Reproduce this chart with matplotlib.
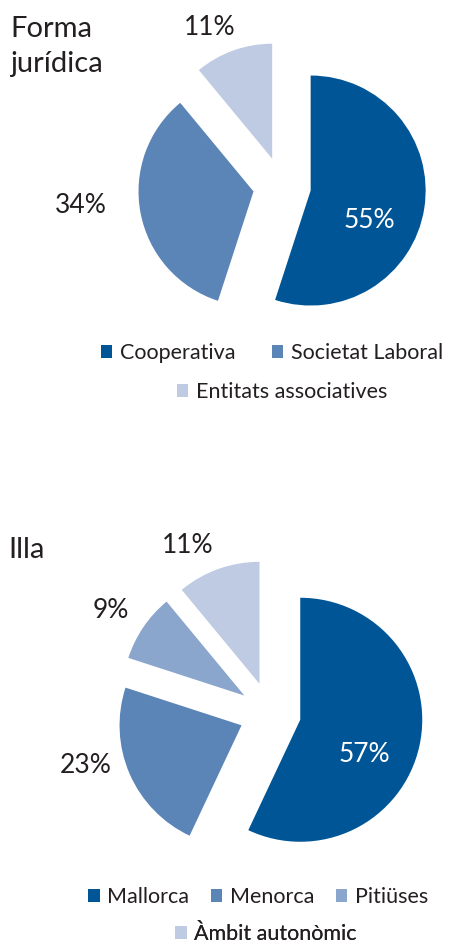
import matplotlib

matplotlib.use('Agg')
import matplotlib.pyplot as plt

plt.rcParams['font.family'] = ['Lato', 'DejaVu Sans']

# Forma jurídica
forma_labels = ['Cooperativa', 'Societat Laboral', 'Entitats associatives']
forma_values = [55, 34, 11]

# Illa
illa_labels = ['Mallorca', 'Menorca', 'Pitiüses', 'Àmbit autonòmic']
illa_values = [57, 23, 9, 11]

colors = ['#005596', '#5b84b7', '#8ba6cd', '#bfcbe3']
text_color = '#231f20'

W, H = 450, 947
fig = plt.figure(figsize=(W / 100, H / 100), dpi=100)
ax = fig.add_axes([0, 0, 1, 1])


def py(y):
    # pixel row (from top) -> data y
    return H - y


def draw_pie(values, labels, cols, center, radius, explode, pct_pos, pct_colors,
             legend_rows, legend_pos, colspacing):
    wedges, _ = ax.pie(values, colors=cols, startangle=90, counterclock=False,
                       radius=radius, center=(center[0], py(center[1])),
                       explode=[explode] * len(values),
                       wedgeprops=dict(linewidth=0))
    for v, (x, y), c in zip(values, pct_pos, pct_colors):
        ax.text(x, py(y), f'{v}%', ha='center', va='baseline', fontsize=19,
                color=c)
    start = 0
    for n, (lx, ly) in zip(legend_rows, legend_pos):
        leg = ax.legend(wedges[start:start + n], labels[start:start + n],
                        loc='center', bbox_to_anchor=(lx, py(ly)),
                        bbox_transform=ax.transData, ncol=n, frameon=False,
                        fontsize=15.5, handlelength=0.53, handleheight=0.53,
                        handletextpad=0.35, columnspacing=colspacing,
                        borderpad=0, borderaxespad=0, labelcolor=text_color)
        ax.add_artist(leg)
        start += n


draw_pie(forma_values, forma_labels, [colors[0], colors[1], colors[3]],
         center=(282, 186), radius=115, explode=29,
         pct_pos=[(369, 228), (81, 213), (210, 35)],
         pct_colors=['white', text_color, text_color],
         legend_rows=[2, 1], legend_pos=[(272, 353), (282, 392)],
         colspacing=1.7)

draw_pie(illa_values, illa_labels, colors,
         center=(270, 713), radius=122, explode=31,
         pct_pos=[(364, 762), (86, 773), (111, 618), (188, 553)],
         pct_colors=['white', text_color, text_color, text_color],
         legend_rows=[3, 1], legend_pos=[(258, 897), (266, 934)],
         colspacing=1.0)

ax.text(10, py(37), 'Forma', ha='left', va='baseline', fontsize=21, color=text_color)
ax.text(10, py(72), 'jurídica', ha='left', va='baseline', fontsize=21, color=text_color)
ax.text(8, py(558), 'Illa', ha='left', va='baseline', fontsize=21, color=text_color)

ax.set_xlim(0, W)
ax.set_ylim(0, H)
ax.set_aspect('auto')
ax.axis('off')

fig.savefig('out.png', dpi=100)
